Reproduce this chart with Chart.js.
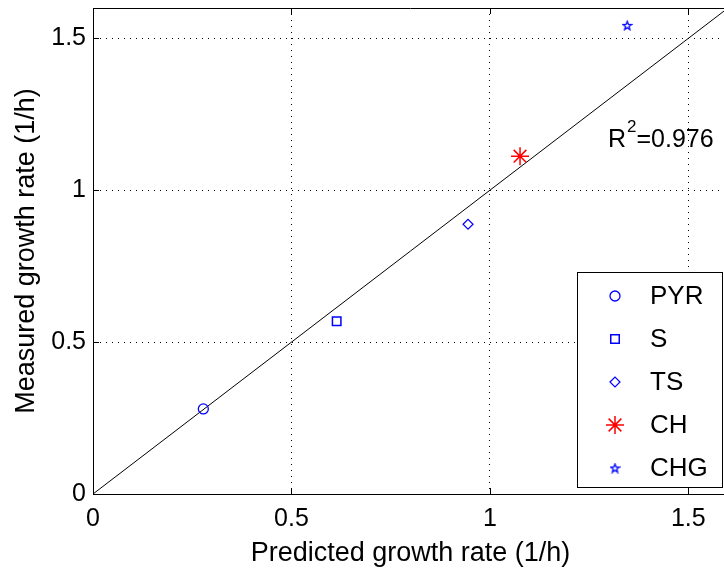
<!DOCTYPE html>
<html>
<head>
<meta charset="utf-8">
<script src="https://cdn.jsdelivr.net/npm/chart.js@4.4.1/dist/chart.umd.min.js"></script>
<style>
  html, body { margin: 0; padding: 0; background: #ffffff; overflow: hidden; }
  #wrap { width: 724px; height: 574px; overflow: hidden; }
</style>
</head>
<body>
<div id="wrap"><canvas id="chart" width="728" height="574"></canvas></div>
<script>
/* ── Data ──────────────────────────────────────────────────── */
const seriesNames = ['PYR', 'S', 'TS', 'CH', 'CHG'];
const predicted   = [0.278, 0.614, 0.945, 1.076, 1.346];
const measured    = [0.280, 0.569, 0.888, 1.112, 1.543];
const seriesColor = ['#0000ff', '#0000ff', '#0000ff', '#ff0000', '#0000ff'];

const fitLineX = [0, 1.6];
const xTicks = [0, 0.5, 1, 1.5];
const yTicks = [0, 0.5, 1, 1.5];
const axisMin = 0;
const axisMax = 1.6;
const rSquared = '0.976';

const FONT = "'Liberation Sans', Arial, sans-serif";

/* ── Pentagram marker (Chart.js has no built-in one) ──────── */
function makePentagram(size, color) {
  const c = document.createElement('canvas');
  c.width = size; c.height = size;
  const g = c.getContext('2d');
  const cx = size / 2, cy = size / 2 + 0.5;
  const R = size / 2 - 1, r = R * 0.42;
  g.beginPath();
  for (let i = 0; i < 10; i++) {
    const rad = i % 2 === 0 ? R : r;
    const a = -Math.PI / 2 + i * Math.PI / 5;
    const px = cx + rad * Math.cos(a), py = cy + rad * Math.sin(a);
    i === 0 ? g.moveTo(px, py) : g.lineTo(px, py);
  }
  g.closePath();
  g.strokeStyle = color;
  g.lineWidth = 1.3;
  g.stroke();
  return c;
}

const markerStyle = ['circle', 'rect', 'rectRot', 'star', makePentagram(11, '#0000ff')];
const markerRadius = [5, 6, 5, 9, 5];
const markerWidth = [1.3, 1.5, 1.2, 1.5, 1.2];

/* ── Datasets ─────────────────────────────────────────────── */
const pointSets = seriesNames.map((name, i) => ({
  type: 'scatter',
  label: name,
  data: [{ x: predicted[i], y: measured[i] }],
  pointStyle: markerStyle[i],
  radius: markerRadius[i],
  borderColor: seriesColor[i],
  backgroundColor: 'rgba(0,0,0,0)',
  borderWidth: markerWidth[i],
  order: 1,
}));

const fitSet = {
  type: 'line',
  label: 'fit',
  data: fitLineX.map(v => ({ x: v, y: v })),
  borderColor: '#000000',
  borderWidth: 1,
  pointRadius: 0,
  fill: false,
  order: 2,
};

/* ── Plugins: inner ticks, legend box, R² note ───────────── */
const innerTicks = {
  id: 'innerTicks',
  afterDatasetsDraw(chart) {
    const { ctx, chartArea: a, scales: { x, y } } = chart;
    ctx.save();
    ctx.strokeStyle = '#000';
    ctx.lineWidth = 1;
    ctx.beginPath();
    xTicks.forEach(v => {
      const px = Math.round(x.getPixelForValue(v)) + 0.5;
      ctx.moveTo(px, a.bottom); ctx.lineTo(px, a.bottom - 6);
      ctx.moveTo(px, a.top);    ctx.lineTo(px, a.top + 6);
    });
    yTicks.forEach(v => {
      const py = Math.round(y.getPixelForValue(v)) + 0.5;
      ctx.moveTo(a.left, py); ctx.lineTo(a.left + 6, py);
    });
    // top frame line
    ctx.moveTo(a.left, Math.round(a.top) + 0.5);
    ctx.lineTo(a.right, Math.round(a.top) + 0.5);
    ctx.stroke();
    ctx.restore();
  },
};

const legendBox = {
  id: 'legendBox',
  afterDraw(chart) {
    const { ctx } = chart;
    const bx = 577.5, by = 272.5, bw = 145, bh = 215;
    ctx.save();
    ctx.fillStyle = '#ffffff';
    ctx.fillRect(bx, by, bw, bh);
    ctx.strokeStyle = '#000000';
    ctx.lineWidth = 1;
    ctx.strokeRect(bx, by, bw, bh);

    const rowY = [296, 339, 382, 425, 468];
    seriesNames.forEach((name, i) => {
      ctx.strokeStyle = seriesColor[i];
      ctx.fillStyle = 'rgba(0,0,0,0)';
      ctx.lineWidth = markerWidth[i];
      Chart.helpers.drawPoint(ctx, {
        pointStyle: markerStyle[i],
        radius: markerRadius[i],
        borderWidth: markerWidth[i],
        rotation: 0,
      }, 615, rowY[i]);
      ctx.fillStyle = '#000000';
      ctx.font = '26px ' + FONT;
      ctx.textBaseline = 'middle';
      ctx.textAlign = 'left';
      ctx.fillText(name, 650, rowY[i] + 1);
    });

    // R² annotation
    ctx.fillStyle = '#000000';
    ctx.textBaseline = 'alphabetic';
    ctx.font = '25px ' + FONT;
    ctx.fillText('R', 608, 147);
    const rW = ctx.measureText('R').width;
    ctx.font = '17px ' + FONT;
    ctx.fillText('2', 608 + rW + 1, 132);
    const sW = ctx.measureText('2').width;
    ctx.font = '25px ' + FONT;
    ctx.fillText('=' + rSquared, 608 + rW + sW + 1, 147);
    ctx.restore();
  },
};

/* ── Chart ────────────────────────────────────────────────── */
const tickFont = { family: FONT, size: 25 };
const titleFont = { family: FONT, size: 27 };
const gridOpts = {
  color: '#000000',
  lineWidth: 1,
  drawTicks: false,
};

// keep the plot box where the reference has it: no label-driven padding
function noPad(s) {
  s.paddingLeft = s.paddingRight = s.paddingTop = s.paddingBottom = 0;
}

new Chart(document.getElementById('chart'), {
  data: { datasets: [fitSet, ...pointSets] },
  options: {
    responsive: false,
    animation: false,
    layout: { autoPadding: false, padding: { top: 8, right: 0, left: 0, bottom: 0 } },
    plugins: {
      legend: { display: false },
      tooltip: { enabled: false },
    },
    scales: {
      x: {
        type: 'linear',
        min: axisMin,
        max: axisMax,
        afterBuildTicks: s => { s.ticks = xTicks.map(v => ({ value: v })); },
        afterFit: s => { s.height = 80; noPad(s); },
        grid: gridOpts,
        border: { display: true, color: '#000000', width: 1, dash: [1, 5] },
        ticks: {
          color: '#000000',
          font: tickFont,
          padding: 10,
          maxRotation: 0,
          callback: v => String(v),
        },
        title: {
          display: true,
          text: 'Predicted growth rate (1/h)',
          color: '#000000',
          font: titleFont,
          padding: { top: 0, bottom: 4 },
        },
      },
      y: {
        type: 'linear',
        min: axisMin,
        max: axisMax,
        afterBuildTicks: s => { s.ticks = yTicks.map(v => ({ value: v })); },
        afterFit: s => { s.width = 93; noPad(s); },
        grid: gridOpts,
        border: { display: true, color: '#000000', width: 1, dash: [1, 5] },
        ticks: {
          color: '#000000',
          font: tickFont,
          padding: 7,
          callback: v => String(v),
        },
        title: {
          display: true,
          text: 'Measured growth rate (1/h)',
          color: '#000000',
          font: titleFont,
          padding: { top: 10, bottom: 0 },
        },
      },
    },
  },
  plugins: [innerTicks, legendBox],
});
</script>
</body>
</html>
